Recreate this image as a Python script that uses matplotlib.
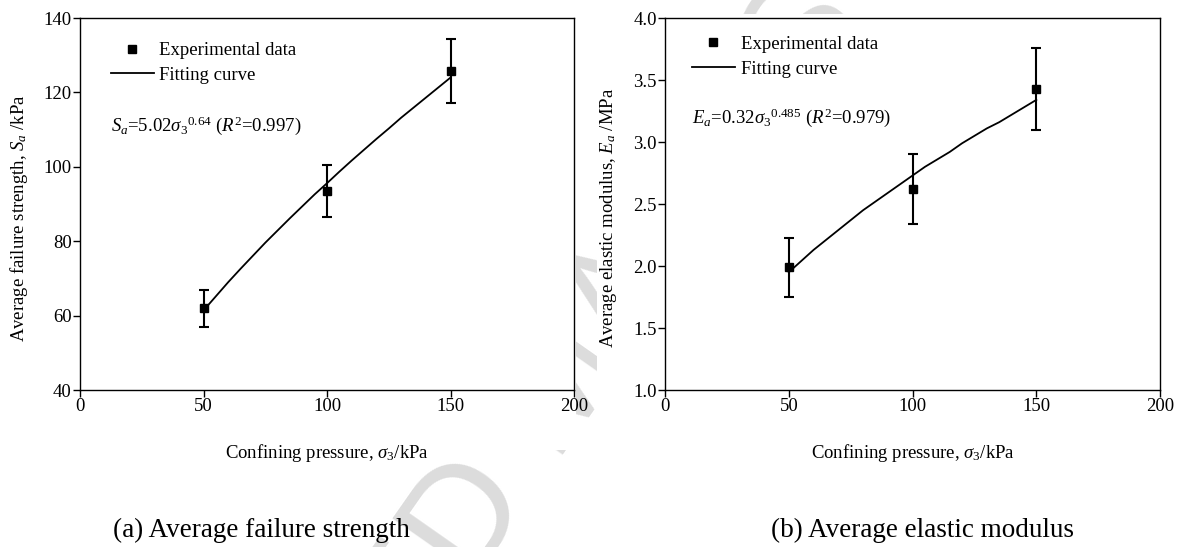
import matplotlib
matplotlib.use("Agg")
import matplotlib.pyplot as plt
from matplotlib.lines import Line2D
from matplotlib.patches import Rectangle

# Triaxial test results: mean values and error bars at each confining pressure
confining = [50, 100, 150]
strength_mean = [62.0, 93.5, 125.8]
strength_err = [5.0, 6.9, 8.6]
modulus_mean = [1.99, 2.62, 3.43]
modulus_err = [0.24, 0.28, 0.33]

# Fitted power-law curves, sampled every 5 kPa
fit_x = [50, 55, 60, 65, 70, 75, 80, 85, 90, 95, 100,
         105, 110, 115, 120, 125, 130, 135, 140, 145, 150]
strength_fit = [61.4, 65.2, 69.0, 72.6, 76.1, 79.6, 82.9, 86.2, 89.4, 92.6, 95.6,
                98.7, 101.7, 104.6, 107.5, 110.3, 113.2, 115.9, 118.6, 121.3, 124.0]
modulus_fit = [1.95, 2.04, 2.13, 2.21, 2.29, 2.37, 2.45, 2.52, 2.59, 2.66, 2.73,
               2.80, 2.86, 2.92, 2.99, 3.05, 3.11, 3.16, 3.22, 3.28, 3.34]

strength_ticks = [40, 60, 80, 100, 120, 140]
modulus_ticks = [1.0, 1.5, 2.0, 2.5, 3.0, 3.5, 4.0]
x_ticks = [0, 50, 100, 150, 200]

plt.rcParams['font.family'] = ['Liberation Serif', 'DejaVu Serif']
plt.rcParams['mathtext.fontset'] = 'custom'
plt.rcParams['mathtext.rm'] = 'Liberation Serif'
plt.rcParams['mathtext.it'] = 'Liberation Serif:italic'
plt.rcParams['axes.linewidth'] = 1.0

fig = plt.figure(figsize=(11.84, 5.47), dpi=100)

# faint page watermark, only showing between the panels and under them
fig.text(0.4755, 0.2925, "ACCEPTED MANUSCRIPT", fontsize=108, color='#dcdcdc',
         family='Liberation Sans', rotation=55, rotation_mode='anchor',
         ha='center', va='center', zorder=-3)
fig.patches.append(Rectangle((0, 0.177), 0.4865, 0.823, transform=fig.transFigure,
                             facecolor='white', edgecolor='none', zorder=-2))
fig.patches.append(Rectangle((0.5042, 0.177), 0.4958, 0.797, transform=fig.transFigure,
                             facecolor='white', edgecolor='none', zorder=-2))

ax1 = fig.add_axes([0.0676, 0.287, 0.4172, 0.680])
ax2 = fig.add_axes([0.5617, 0.287, 0.4181, 0.680])


def draw_panel(ax, mean, err, fit, ylim, yticks, ylabel, ylabel_x, eqn, leg_anchor, eqn_pos):
    ax.errorbar(confining, mean, yerr=err, fmt='s', color='k', ms=5.5,
                elinewidth=1.5, capsize=3.5, capthick=1.5, zorder=3)
    ax.plot(fit_x, fit, color='k', lw=1.3, solid_joinstyle='round', zorder=2)
    ax.set_xlim(0, 200)
    ax.set_ylim(*ylim)
    ax.set_xticks(x_ticks)
    ax.set_yticks(yticks)
    if isinstance(yticks[0], float):
        ax.set_yticklabels(["%.1f" % t for t in yticks])
    ax.tick_params(direction='out', length=5, width=1, labelsize=13.5, pad=1)
    ax.set_xlabel(r"Confining pressure, $\sigma_3$/kPa", fontsize=13.5, labelpad=19)
    ax.set_ylabel(ylabel, fontsize=13.5)
    ax.yaxis.set_label_coords(ylabel_x, 0.462)
    handles = [Line2D([], [], marker='s', ls='none', color='k', ms=5.5),
               Line2D([], [], color='k', lw=1.3)]
    ax.legend(handles, ["Experimental data", "Fitting curve"], loc='upper left',
              bbox_to_anchor=leg_anchor, frameon=False, fontsize=13.5,
              handlelength=2.3, handletextpad=0.3, labelspacing=0.4,
              borderpad=0, borderaxespad=0)
    ax.text(eqn_pos[0], eqn_pos[1], eqn, transform=ax.transAxes, fontsize=13.5,
            ha='left', va='center')


draw_panel(ax1, strength_mean, strength_err, strength_fit, (40, 140), strength_ticks,
           r"Average failure strength, $S_a$ /kPa", -0.102,
           r"$S_a$=5.02$\sigma_3{}^{0.64}$ ($R^2$=0.997)",
           (0.062, 0.935), (0.062, 0.71))
draw_panel(ax2, modulus_mean, modulus_err, modulus_fit, (1.0, 4.0), modulus_ticks,
           r"Average elastic modulus, $E_a$ /MPa", -0.093,
           r"$E_a$=0.32$\sigma_3{}^{0.485}$ ($R^2$=0.979)",
           (0.054, 0.952), (0.054, 0.733))

fig.text(0.221, 0.031, "(a) Average failure strength", fontsize=19.5, ha='center', va='center')
fig.text(0.779, 0.031, "(b) Average elastic modulus", fontsize=19.5, ha='center', va='center')

fig.savefig("out.png", dpi=100)
